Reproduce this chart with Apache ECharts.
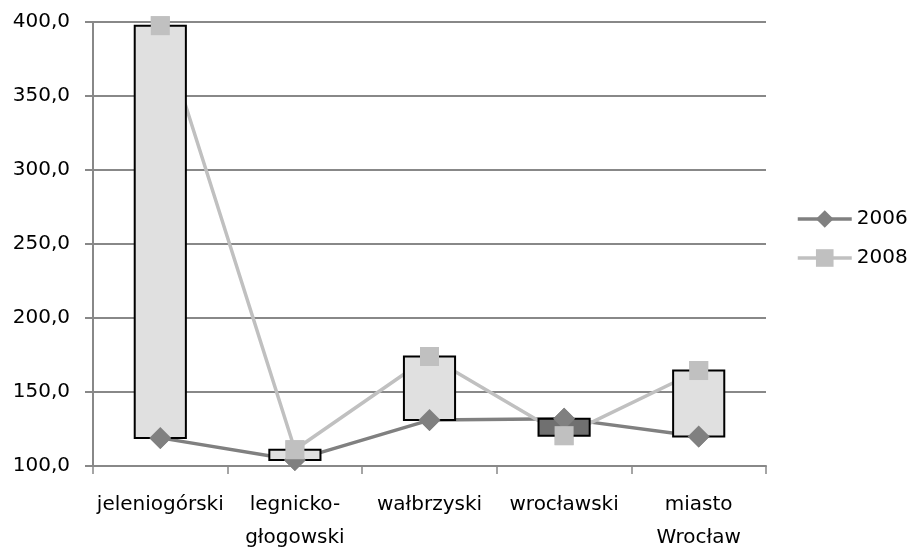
<!DOCTYPE html>
<html>
<head>
<meta charset="utf-8">
<script src="https://cdn.jsdelivr.net/npm/echarts@6/dist/echarts.min.js"></script>
<style>
html,body{margin:0;padding:0;background:#fff;}
#chart{width:914px;height:549px;}
</style>
</head>
<body>
<div id="chart"></div>
<script>
var categories = ['jeleniogórski', 'legnicko-\ngłogowski', 'wałbrzyski', 'wrocławski', 'miasto\nWrocław'];
var values2006 = [119.0, 104.0, 131.0, 132.0, 120.0];
var values2008 = [397.5, 111.0, 174.0, 120.5, 164.5];
var yTicks = {min: 100, max: 400, interval: 50};

var FONT = 'DejaVu Sans';
var C2006 = '#808080';
var C2008 = '#c0c0c0';
var UP_FILL = '#e0e0e0';
var DOWN_FILL = '#707070';

var barData = categories.map(function (c, i) { return [i, values2006[i], values2008[i]]; });

var chart = echarts.init(document.getElementById('chart'));
chart.setOption({
  animation: false,
  backgroundColor: '#fff',
  grid: {left: 93, right: 148, top: 22, bottom: 83, containLabel: false, outerBoundsMode: 'none'},
  legend: {
    data: ['2006', '2008'],
    orient: 'vertical',
    left: 791,
    top: 204,
    itemWidth: 54,
    itemHeight: 22,
    itemGap: 19,
    lineStyle: {width: 3.5},
    textStyle: {fontFamily: FONT, fontSize: 20, color: '#000'},
    selectedMode: false
  },
  xAxis: {
    type: 'category',
    data: categories,
    boundaryGap: true,
    axisLine: {show: true, lineStyle: {color: '#888', width: 2}},
    axisTick: {show: true, length: 8, lineStyle: {color: '#888', width: 1.5}},
    axisLabel: {fontFamily: FONT, fontSize: 20, color: '#000', margin: 22, lineHeight: 33, interval: 0},
    splitLine: {show: false}
  },
  yAxis: {
    type: 'value',
    min: yTicks.min,
    max: yTicks.max,
    interval: yTicks.interval,
    axisLine: {show: true, lineStyle: {color: '#888', width: 2}},
    axisTick: {show: true, length: 8, lineStyle: {color: '#888', width: 2}},
    axisLabel: {
      fontFamily: FONT, fontSize: 20, color: '#000', margin: 23,
      formatter: function (v) { return v.toFixed(1).replace('.', ','); }
    },
    splitLine: {show: true, lineStyle: {color: '#888', width: 2}}
  },
  series: [
    {
      name: '2006', type: 'line', data: values2006, z: 1,
      symbol: 'diamond', symbolSize: 22, showSymbol: true,
      itemStyle: {color: C2006}, lineStyle: {color: C2006, width: 3.5}
    },
    {
      name: '2008', type: 'line', data: values2008, z: 1,
      symbol: 'rect', symbolSize: 19, showSymbol: true,
      itemStyle: {color: C2008}, lineStyle: {color: C2008, width: 3.5}
    },
    {
      name: 'updown', type: 'custom', z: 3,
      data: barData,
      encode: {x: 0, y: [1, 2]},
      renderItem: function (params, api) {
        var i = api.value(0);
        var a = api.value(1), b = api.value(2);
        var pa = api.coord([i, a]);
        var pb = api.coord([i, b]);
        var w = api.size([1, 0])[0] * 0.38;
        var top = Math.min(pa[1], pb[1]);
        var h = Math.abs(pa[1] - pb[1]);
        return {
          type: 'rect',
          shape: {x: pa[0] - w / 2, y: top, width: w, height: h},
          style: {fill: b >= a ? UP_FILL : DOWN_FILL, stroke: '#000', lineWidth: 2}
        };
      }
    },
    {
      name: '2006m', type: 'line', data: values2006, z: 5,
      symbol: 'diamond', symbolSize: 22, showSymbol: true,
      itemStyle: {color: C2006}, lineStyle: {width: 0, opacity: 0}
    },
    {
      name: '2008m', type: 'line', data: values2008, z: 5,
      symbol: 'rect', symbolSize: 19, showSymbol: true,
      itemStyle: {color: C2008}, lineStyle: {width: 0, opacity: 0}
    }
  ]
});
</script>
</body>
</html>
